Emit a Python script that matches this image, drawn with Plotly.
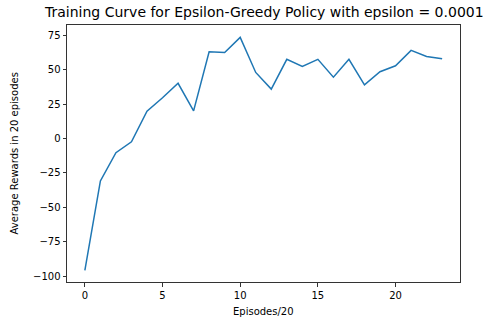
import plotly.graph_objects as go

episodes = list(range(24))
avg_rewards = [-95.6, -30.8, -10.3, -2.4, 19.8, 29.5, 40.0, 20.0, 62.9, 62.4, 73.3, 47.9,
               35.8, 57.4, 52.3, 57.4, 44.5, 57.4, 38.9, 48.4, 52.7, 63.9, 59.5, 57.8]
y_ticks = [-100, -75, -50, -25, 0, 25, 50, 75]
x_ticks = [0, 5, 10, 15, 20]

font = "DejaVu Sans, Liberation Sans, sans-serif"

fig = go.Figure()
fig.add_trace(go.Scatter(x=episodes, y=avg_rewards, mode="lines",
                         line=dict(color="#1f77b4", width=1.5)))

axis_common = dict(showgrid=False, zeroline=False, showline=True, mirror=True,
                   linecolor="#333333", linewidth=1, ticks="outside", ticklen=3.5,
                   tickwidth=0.8, tickcolor="#333333",
                   tickfont=dict(family=font, size=10, color="black"))

fig.update_layout(
    width=485, height=320,
    margin=dict(l=67, r=25, t=25, b=38),
    paper_bgcolor="white", plot_bgcolor="white",
    showlegend=False,
    font=dict(family=font, size=10, color="black"),
    xaxis=dict(range=[-1.15, 24.15], tickvals=x_ticks, **axis_common),
    yaxis=dict(range=[-104.1, 82.3], tickvals=y_ticks, **axis_common),
    annotations=[
        dict(text="Training Curve for Epsilon-Greedy Policy with epsilon = 0.0001",
             xref="paper", yref="paper", x=0.5, y=1, yshift=3, xanchor="center",
             yanchor="bottom", showarrow=False, font=dict(family=font, size=14, color="black")),
        dict(text="Episodes/20", xref="paper", yref="paper", x=0.5, y=0, yshift=-22,
             xanchor="center", yanchor="top", showarrow=False,
             font=dict(family=font, size=10, color="black")),
        dict(text="Average Rewards in 20 episodes", xref="paper", yref="paper", x=0, y=0.5,
             xshift=-53, xanchor="center", yanchor="middle", textangle=-90, showarrow=False,
             font=dict(family=font, size=10, color="black")),
    ],
)

fig.write_html("out.html", config={"displayModeBar": False},
               post_script="document.body.style.margin='0';document.body.style.padding='0';")
